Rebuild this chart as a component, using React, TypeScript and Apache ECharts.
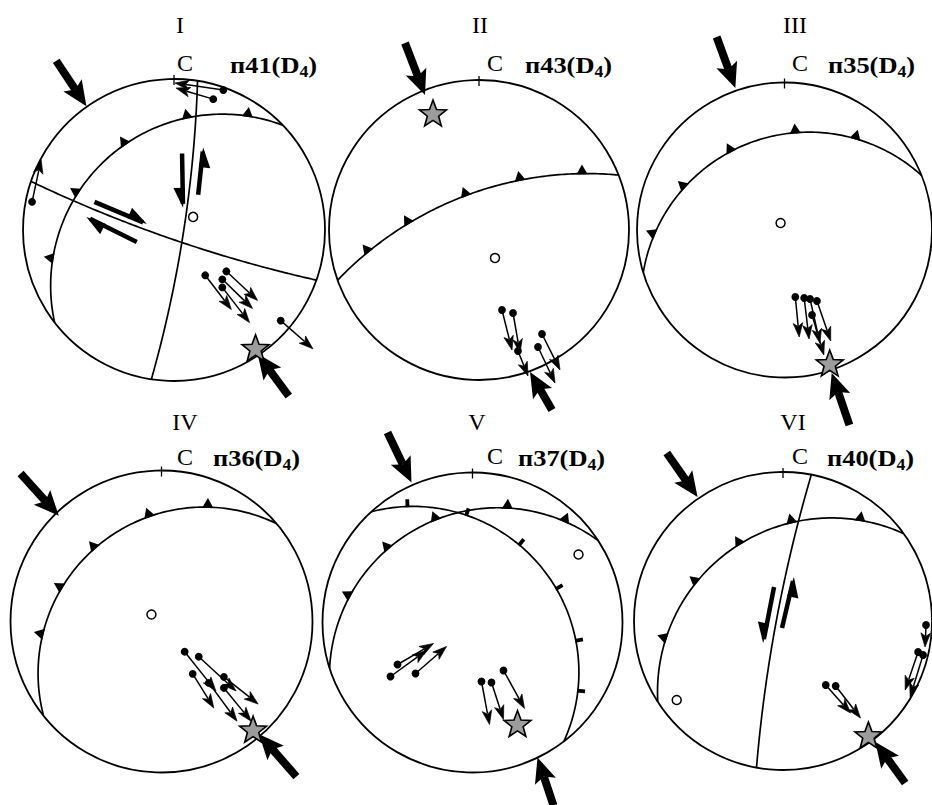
import React, { useEffect, useRef } from 'react';
import * as echarts from 'echarts';

// Stereonet coordinates: x = east, y = north, primitive circle radius = 150 units.
const R = 150;

const panelNames = ['I', 'II', 'III', 'IV', 'V', 'VI'];
const stationNumbers = ['41', '43', '35', '36', '37', '40'];
const northLabel = 'С';

// ---------- Panel I (п41) ----------
const planesI = [
  [[103, 107], [73, 113], [23, 111], [-17, 102], [-49, 86], [-77, 63], [-96, 37], [-111, 3], [-120, -33], [-119, -93]],
  [[24, 148], [19, 90], [13, 17], [8, -13], [-4, -70], [-22, -148]],
  [[-143, 47], [-97, 30], [8, -13], [76, -33], [141, -50]],
];
const barbsI = [[13, 112, 0, 1], [73, 113, 0, 1], [-49, 86, 0, 1], [-96, 37, 0, 1], [-121, -28, 0, 1]];
const ticksI: number[][] = [];
const lineationsI = [
  [49, 139, 1, 146], [39, 130, 2, 141], [-141, 28, -132, 70],
  [31, -45, 57, -79], [52, -41, 83, -70], [48, -49, 78, -78], [48, -57, 75, -92],
  [106, -90, 138, -118],
];
const shearI = [[-79, 28, -27, 6, -1], [-37, -12, -87, 13, -1], [8, 76, 9, 22, 1], [24, 35, 29, 82, 1]];
const polesI = [[19, 13]];
const starsI = [[81, -117]];
const compressionI = [[-117, 168, -87, 123], [114, -165, 83, -123]];

// ---------- Panel II (п43) ----------
const planesII = [
  [[-141, -50], [-112, -23], [-71, 7], [-14, 35], [41, 48], [103, 57], [141, 55]],
];
const barbsII = [[-112, -20, 0, 1], [-71, 8, 0, 1], [-14, 37, 0, 1], [41, 50, 0, 1], [103, 60, 0, 1]];
const ticksII: number[][] = [];
const lineationsII = [
  [23, -80, 33, -120], [34, -83, 41, -123], [63, -104, 81, -140], [59, -117, 76, -153], [39, -121, 49, -146],
];
const shearII: number[][] = [];
const polesII = [[16, -28]];
const starsII = [[-46, 117]];
const compressionII = [[-74, 187, -54, 135], [73, -180, 51, -142]];

// ---------- Panel III (п35) ----------
const planesIII = [
  [[-142, -45], [-134, -3], [-104, 43], [-54, 77], [10, 95], [73, 93], [140, 54]],
];
const barbsIII = [[-135, -3, 0, 1], [-104, 45, 0, 1], [-54, 78, 0, 1], [11, 97, 0, 1], [73, 95, 0, 1]];
const ticksIII: number[][] = [];
const lineationsIII = [
  [11, -67, 15, -107], [20, -68, 25, -109], [26, -69, 36, -113], [33, -71, 47, -111], [28, -85, 40, -125],
];
const shearIII: number[][] = [];
const polesIII = [[-4, 7]];
const starsIII = [[46, -133]];
const compressionIII = [[-69, 193, -50, 142], [66, -195, 48, -143]];

// ---------- Panel IV (п36) ----------
const planesIV = [
  [[112, 100], [46, 112], [-12, 103], [-67, 73], [-100, 34], [-120, -14], [-120, -57], [-117, -96]],
];
const barbsIV = [[46, 115, 0, 1], [-12, 104, 0, 1], [-67, 74, 0, 1], [-100, 34, 0, 1], [-120, -12, 0, 1]];
const ticksIV: number[][] = [];
const lineationsIV = [
  [23, -30, 54, -69], [37, -35, 74, -69], [31, -52, 52, -86], [47, -61, 75, -99], [62, -55, 96, -82], [62, -66, 89, -99],
];
const shearIV: number[][] = [];
const polesIV = [[-10, 7]];
const starsIV = [[91, -107]];
const compressionIV = [[-140, 147, -102, 105], [134, -154, 97, -112]];

// ---------- Panel V (п37) ----------
const planesV = [
  [[-95, 115], [-63, 115], [-13, 106], [48, 76], [86, 35], [105, -18], [103, -68], [92, -118]],
  [[-141, -50], [-125, 28], [-86, 75], [-38, 103], [-13, 106], [35, 113], [93, 102], [126, 83]],
];
const barbsV = [[-125, 28, 1, 1], [-86, 76, 1, 1], [-38, 106, 1, 1], [35, 116, 1, 1], [93, 104, 1, 1]];
const ticksV = [[-65, 115, 0, 1], [-6, 108, 0, 1], [47, 78, 0, 1], [86, 35, 0, 1], [105, -18, 0, 1], [104, -68, 0, 1]];
const lineationsV = [
  [-82, -54, -46, -28], [-75, -42, -39, -21], [-57, -51, -26, -24],
  [9, -59, 17, -102], [19, -60, 31, -97], [31, -48, 52, -86],
];
const shearV: number[][] = [];
const polesV = [[106, 68]];
const starsV = [[45, -101]];
const compressionV = [[-85, 190, -61, 140], [81, -183, 65, -135]];

// ---------- Panel VI (п40) ----------
const planesVI = [
  [[121, 89], [78, 100], [16, 99], [-44, 76], [-87, 38], [-121, -16], [-124, -81]],
  [[29, 146], [14, 99], [-1, 26], [-11, -27], [-27, -146]],
];
const barbsVI = [[78, 103, 0, 1], [8, 101, 0, 1], [-44, 78, 0, 1], [-87, 39, 0, 1], [-121, -16, 0, 1]];
const ticksVI: number[][] = [];
const lineationsVI = [
  [144, -4, 143, -26], [136, -31, 123, -69], [141, -34, 128, -76], [43, -64, 68, -92], [53, -65, 78, -97],
];
const shearVI = [[-9, 34, -20, -22, 1], [-1, -7, 11, 44, 1]];
const polesVI = [[-107, -79]];
const starsVI = [[86, -114]];
const compressionVI = [[-117, 168, -86, 124], [123, -162, 93, -121]];

// ---------- Layout (pixels) ----------
const LAYOUT = [
  { cx: 174, cy: 230, r: 151, title: [180, 25], north: [185, 63], label: [230, 65] },
  { cx: 479, cy: 230, r: 150, title: [480, 25], north: [495, 63], label: [525, 65] },
  { cx: 787, cy: 230, r: 150, title: [795, 25], north: [800, 63], label: [828, 65] },
  { cx: 161.5, cy: 621.5, r: 151, title: [185, 422], north: [185, 457], label: [213, 458] },
  { cx: 472.5, cy: 622.5, r: 150, title: [477, 422], north: [495, 456], label: [518, 458] },
  { cx: 784, cy: 621, r: 150, title: [793, 422], north: [800, 456], label: [827, 458] },
];

const PANELS = [
  { planes: planesI, barbs: barbsI, ticks: ticksI, lineations: lineationsI, shear: shearI, poles: polesI, stars: starsI, compression: compressionI },
  { planes: planesII, barbs: barbsII, ticks: ticksII, lineations: lineationsII, shear: shearII, poles: polesII, stars: starsII, compression: compressionII },
  { planes: planesIII, barbs: barbsIII, ticks: ticksIII, lineations: lineationsIII, shear: shearIII, poles: polesIII, stars: starsIII, compression: compressionIII },
  { planes: planesIV, barbs: barbsIV, ticks: ticksIV, lineations: lineationsIV, shear: shearIV, poles: polesIV, stars: starsIV, compression: compressionIV },
  { planes: planesV, barbs: barbsV, ticks: ticksV, lineations: lineationsV, shear: shearV, poles: polesV, stars: starsV, compression: compressionV },
  { planes: planesVI, barbs: barbsVI, ticks: ticksVI, lineations: lineationsVI, shear: shearVI, poles: polesVI, stars: starsVI, compression: compressionVI },
];

const FONT = '"Liberation Serif", "Times New Roman", serif';
const STAR_PATH = 'path://M100 0 L124.7 66 L195.1 69.1 L139.9 113 L158.8 180.9 L100 142 L41.2 180.9 L60.1 113 L4.9 69.1 L75.3 66 Z';

function unit(a: number[], b: number[]) {
  const dx = b[0] - a[0];
  const dy = b[1] - a[1];
  const L = Math.hypot(dx, dy) || 1;
  return [dx / L, dy / L];
}

// Least-squares (Kasa) circle through the read points of a great circle, in pixel space.
function fitCircle(pts: number[][]) {
  const n = pts.length;
  let mx = 0;
  let my = 0;
  pts.forEach((p) => { mx += p[0]; my += p[1]; });
  mx /= n; my /= n;
  let sxx = 0, syy = 0, sxy = 0, sxz = 0, syz = 0, sz = 0, sx = 0, sy = 0;
  pts.forEach((p) => {
    const x = p[0] - mx;
    const y = p[1] - my;
    const z = x * x + y * y;
    sxx += x * x; syy += y * y; sxy += x * y; sxz += x * z; syz += y * z; sz += z; sx += x; sy += y;
  });
  const A = [[sxx, sxy, sx], [sxy, syy, sy], [sx, sy, n]];
  const b = [-sxz, -syz, -sz];
  const det = (m: number[][]) =>
    m[0][0] * (m[1][1] * m[2][2] - m[1][2] * m[2][1]) -
    m[0][1] * (m[1][0] * m[2][2] - m[1][2] * m[2][0]) +
    m[0][2] * (m[1][0] * m[2][1] - m[1][1] * m[2][0]);
  const d0 = det(A);
  if (Math.abs(d0) < 1e-9) return null;
  const sol = [0, 1, 2].map((k) => {
    const M = A.map((row, i) => row.map((v, j) => (j === k ? b[i] : v)));
    return det(M) / d0;
  });
  const cx = -sol[0] / 2;
  const cy = -sol[1] / 2;
  const r = Math.sqrt(Math.max(0, cx * cx + cy * cy - sol[2]));
  if (!isFinite(r) || r > 20000) return null;
  return { cx: cx + mx, cy: cy + my, r };
}

function circleIntersections(c0: number[], r0: number, c1: number[], r1: number) {
  const dx = c1[0] - c0[0];
  const dy = c1[1] - c0[1];
  const d = Math.hypot(dx, dy);
  if (d === 0 || d > r0 + r1 || d < Math.abs(r0 - r1)) return [];
  const a = (r0 * r0 - r1 * r1 + d * d) / (2 * d);
  const h = Math.sqrt(Math.max(0, r0 * r0 - a * a));
  const px = c0[0] + (a * dx) / d;
  const py = c0[1] + (a * dy) / d;
  return [
    [px + (h * -dy) / d, py + (h * dx) / d],
    [px - (h * -dy) / d, py - (h * dx) / d],
  ];
}

function nearest(cands: number[][], p: number[]) {
  let best = p;
  let bd = Infinity;
  cands.forEach((c) => {
    const d = Math.hypot(c[0] - p[0], c[1] - p[1]);
    if (d < bd) { bd = d; best = c; }
  });
  return bd < 25 ? best : p;
}

function primitiveRender(_p: any, api: any) {
  const c = api.coord([0, 0]);
  const r = api.size([R, 0])[0];
  return {
    type: 'group',
    children: [
      { type: 'circle', shape: { cx: c[0], cy: c[1], r }, style: { fill: 'none', stroke: '#000', lineWidth: 1.8 } },
      { type: 'line', shape: { x1: c[0], y1: c[1] - r - 4, x2: c[0], y2: c[1] - r + 6 }, style: { stroke: '#000', lineWidth: 1.3 } },
    ],
  };
}

function makePlaneRender(plane: number[][]) {
  return (params: any, api: any) => {
    if (params.dataIndexInside !== 0) return null;
    const pts = plane.map((q) => api.coord(q));
    const c0 = api.coord([0, 0]);
    const r0 = api.size([R, 0])[0];
    const fit = fitCircle(pts);
    let poly: number[][] = pts;
    if (fit) {
      const c1 = [fit.cx, fit.cy];
      const inter = circleIntersections(c0, r0, c1, fit.r);
      const s = nearest(inter, pts[0]);
      const e = nearest(inter, pts[pts.length - 1]);
      const m = pts[Math.floor(pts.length / 2)];
      const ang = (p: number[]) => Math.atan2(p[1] - c1[1], p[0] - c1[0]);
      const TAU = Math.PI * 2;
      const norm = (a: number) => ((a % TAU) + TAU) % TAU;
      const a0 = ang(s);
      const delta = norm(ang(e) - a0);
      const dm = norm(ang(m) - a0);
      const sweep = dm < delta ? delta : delta - TAU;
      const N = 120;
      poly = [];
      for (let k = 0; k <= N; k++) {
        const a = a0 + (sweep * k) / N;
        poly.push([c1[0] + fit.r * Math.cos(a), c1[1] + fit.r * Math.sin(a)]);
      }
    }
    return { type: 'polyline', shape: { points: poly }, style: { stroke: '#000', lineWidth: 1.7, fill: 'none' } };
  };
}

function makeBarbRender(planes: number[][][], kind: string) {
  return (_p: any, api: any) => {
    const p = api.coord([api.value(0), api.value(1)]);
    const idx = api.value(2);
    const side = api.value(3);
    const pts = planes[idx].map((q) => api.coord(q));
    const c = api.coord([0, 0]);
    const fit = fitCircle(pts);
    let best = p;
    let tan = [1, 0];
    if (fit) {
      const [rx, ry] = unit([fit.cx, fit.cy], p);
      best = [fit.cx + rx * fit.r, fit.cy + ry * fit.r];
      tan = [-ry, rx];
    }
    let nx = -tan[1];
    let ny = tan[0];
    if ((best[0] - c[0]) * nx + (best[1] - c[1]) * ny < 0) {
      nx = -nx;
      ny = -ny;
    }
    nx *= side;
    ny *= side;
    const bx = best[0] - nx * 0.8;
    const by = best[1] - ny * 0.8;
    if (kind === 'tri') {
      const hw = 5.6;
      const h = 10;
      return {
        type: 'polygon',
        shape: { points: [[bx - tan[0] * hw, by - tan[1] * hw], [bx + tan[0] * hw, by + tan[1] * hw], [bx + nx * h, by + ny * h]] },
        style: { fill: '#000' },
      };
    }
    return {
      type: 'line',
      shape: { x1: bx, y1: by, x2: bx + nx * 8, y2: by + ny * 8 },
      style: { stroke: '#000', lineWidth: 3.8 },
    };
  };
}

function lineationRender(_p: any, api: any) {
  const a = api.coord([api.value(0), api.value(1)]);
  const b = api.coord([api.value(2), api.value(3)]);
  const [ux, uy] = unit(a, b);
  const nx = -uy;
  const ny = ux;
  const hl = 14;
  const hw = 4.8;
  const bx = b[0] - ux * hl;
  const by = b[1] - uy * hl;
  return {
    type: 'group',
    children: [
      { type: 'line', shape: { x1: a[0], y1: a[1], x2: bx + ux * 3, y2: by + uy * 3 }, style: { stroke: '#000', lineWidth: 1.5 } },
      {
        type: 'polygon',
        shape: { points: [[b[0], b[1]], [bx + nx * hw, by + ny * hw], [bx + ux * 3.5, by + uy * 3.5], [bx - nx * hw, by - ny * hw]] },
        style: { fill: '#000', stroke: '#000', lineWidth: 0.7 },
      },
      { type: 'circle', shape: { cx: a[0], cy: a[1], r: 3.9 }, style: { fill: '#000' } },
    ],
  };
}

function shearRender(_p: any, api: any) {
  const a = api.coord([api.value(0), api.value(1)]);
  const b = api.coord([api.value(2), api.value(3)]);
  const side = api.value(4);
  const [ux, uy] = unit(a, b);
  const nx = -uy * side;
  const ny = ux * side;
  const w = 4.5;
  const hl = 20;
  const hw = 7;
  return {
    type: 'group',
    children: [
      { type: 'line', shape: { x1: a[0], y1: a[1], x2: b[0] - ux * 4, y2: b[1] - uy * 4 }, style: { stroke: '#000', lineWidth: w } },
      {
        type: 'polygon',
        shape: {
          points: [
            [b[0], b[1]],
            [b[0] - ux * hl - nx * (w / 2), b[1] - uy * hl - ny * (w / 2)],
            [b[0] - ux * hl + nx * (w / 2 + hw), b[1] - uy * hl + ny * (w / 2 + hw)],
          ],
        },
        style: { fill: '#000' },
      },
    ],
  };
}

function compressionRender(_p: any, api: any) {
  const a = api.coord([api.value(0), api.value(1)]);
  const b = api.coord([api.value(2), api.value(3)]);
  const [ux, uy] = unit(a, b);
  const nx = -uy;
  const ny = ux;
  const hl = 25;
  const hw = 11;
  const bx = b[0] - ux * hl;
  const by = b[1] - uy * hl;
  return {
    type: 'group',
    children: [
      { type: 'line', shape: { x1: a[0], y1: a[1], x2: bx + ux * 5, y2: by + uy * 5 }, style: { stroke: '#000', lineWidth: 8 } },
      {
        type: 'polygon',
        shape: { points: [[b[0], b[1]], [bx + nx * hw, by + ny * hw], [bx + ux * 5, by + uy * 5], [bx - nx * hw, by - ny * hw]] },
        style: { fill: '#000' },
      },
    ],
  };
}

function buildOption() {
  const grid: any[] = [];
  const xAxis: any[] = [];
  const yAxis: any[] = [];
  const series: any[] = [];
  const graphic: any[] = [];

  LAYOUT.forEach((L, i) => {
    grid.push({ left: L.cx - L.r, top: L.cy - L.r, width: 2 * L.r, height: 2 * L.r });
    xAxis.push({ type: 'value', gridIndex: i, min: -R, max: R, show: false });
    yAxis.push({ type: 'value', gridIndex: i, min: -R, max: R, show: false });

    const pd = PANELS[i];
    const ax = { xAxisIndex: i, yAxisIndex: i, silent: true, animation: false };

    series.push({ type: 'custom', ...ax, data: [[0, 0]], renderItem: primitiveRender, z: 1, clip: false });
    pd.planes.forEach((pl) => {
      series.push({ type: 'custom', ...ax, data: pl, renderItem: makePlaneRender(pl), z: 2, clip: false });
    });
    if (pd.barbs.length) series.push({ type: 'custom', ...ax, data: pd.barbs, renderItem: makeBarbRender(pd.planes, 'tri'), z: 3, clip: false });
    if (pd.ticks.length) series.push({ type: 'custom', ...ax, data: pd.ticks, renderItem: makeBarbRender(pd.planes, 'tick'), z: 3, clip: false });
    if (pd.shear.length) series.push({ type: 'custom', ...ax, data: pd.shear, renderItem: shearRender, z: 4, clip: false });
    series.push({ type: 'custom', ...ax, data: pd.lineations, renderItem: lineationRender, z: 4, clip: false });
    series.push({ type: 'custom', ...ax, data: pd.compression, renderItem: compressionRender, z: 5, clip: false });
    series.push({
      type: 'scatter', ...ax, data: pd.poles, symbol: 'circle', symbolSize: 9, clip: false, z: 5,
      itemStyle: { color: '#fff', borderColor: '#000', borderWidth: 1.5, opacity: 1 },
    });
    series.push({
      type: 'scatter', ...ax, data: pd.stars, symbol: STAR_PATH, symbolSize: [27, 26], clip: false, z: 6,
      itemStyle: { color: '#9c9c9c', borderColor: '#000', borderWidth: 1.6, opacity: 1 },
    });

    graphic.push({
      type: 'text', x: L.title[0], y: L.title[1], z: 10,
      style: { text: panelNames[i], fontFamily: FONT, fontSize: 24, fill: '#000', align: 'center', verticalAlign: 'middle' },
    });
    graphic.push({
      type: 'text', x: L.north[0], y: L.north[1], z: 10,
      style: { text: northLabel, fontFamily: FONT, fontSize: 24, fill: '#000', align: 'center', verticalAlign: 'middle' },
    });
    graphic.push({
      type: 'text', x: L.label[0], y: L.label[1], z: 10, scaleX: 1.1,
      style: {
        text: '{m|п' + stationNumbers[i] + '(D}{s|4}{m|)}',
        align: 'left', verticalAlign: 'middle',
        rich: {
          m: { fontFamily: FONT, fontSize: 24, fontWeight: 'bold', fill: '#000', color: '#000', lineHeight: 30, verticalAlign: 'middle' },
          s: { fontFamily: FONT, fontSize: 16, fontWeight: 'bold', fill: '#000', color: '#000', lineHeight: 16, verticalAlign: 'bottom' },
        },
      },
    });
  });

  return {
    animation: false,
    backgroundColor: '#fff',
    grid,
    xAxis,
    yAxis,
    series,
    graphic,
  };
}

export default function App() {
  const ref = useRef<HTMLDivElement>(null);
  useEffect(() => {
    if (!ref.current) return;
    const chart = echarts.init(ref.current, undefined, { renderer: 'svg' });
    chart.setOption(buildOption() as any);
    return () => chart.dispose();
  }, []);
  return <div ref={ref} style={{ position: 'fixed', left: 0, top: 0, width: 932, height: 805, background: '#fff' }} />;
}
